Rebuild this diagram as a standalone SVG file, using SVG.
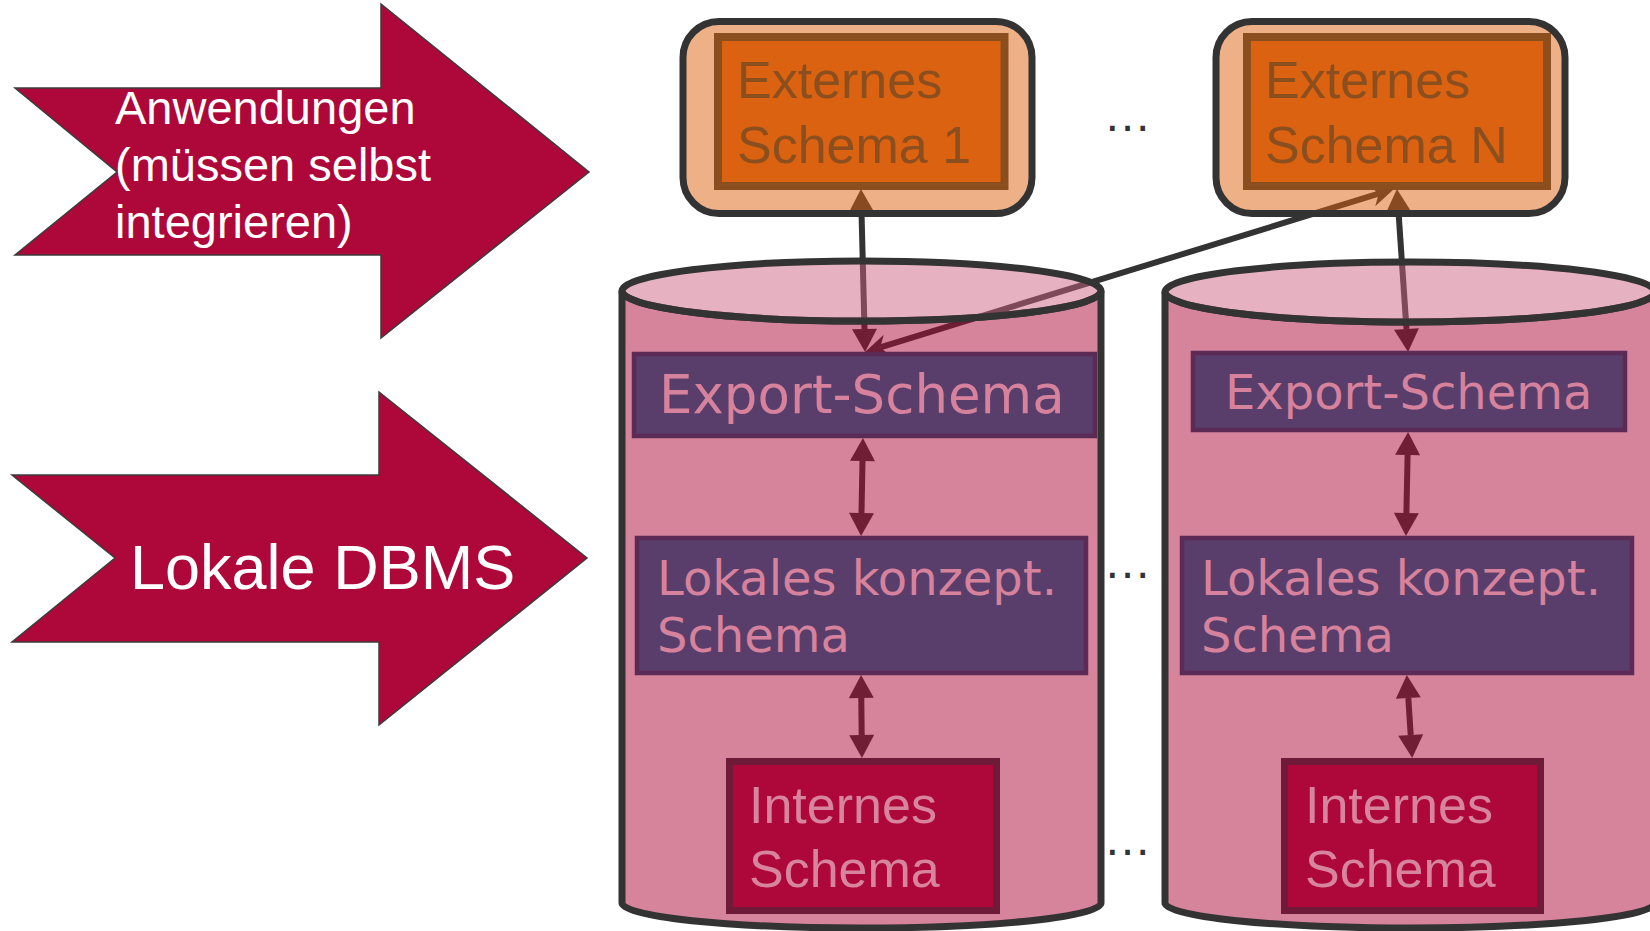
<svg xmlns="http://www.w3.org/2000/svg" width="1650" height="931" viewBox="0 0 1650 931">
<style>
.conn{stroke:#333;stroke-width:6;fill:none}
.bigarrow{fill:#AE0739;stroke:#3c3c3c;stroke-width:1.5}
.wtext{fill:#fff;font-family:"Liberation Sans",Arial,sans-serif}
.cylbody{fill:#AE0739;fill-opacity:0.5;stroke:#333;stroke-width:7}
.cyltop{fill:#CC6080;fill-opacity:0.49;stroke:#333;stroke-width:7}
.outer{fill:#DB6210;fill-opacity:0.5;stroke:#333;stroke-width:7}
.inner{fill:#DB6210;stroke:#8B4F1F;stroke-width:8}
.ext{fill:#8B4F1F;font-family:"Liberation Sans",Arial,sans-serif;font-size:52px}
.purple{fill:#593E6B;stroke:#5B2B55;stroke-width:4.5}
.ptext{fill:#D6829C;font-family:"DejaVu Sans",Verdana,sans-serif}
.intern{fill:#AE0739;stroke:#6E1A38;stroke-width:7}
.itext{fill:#D7849E;font-family:"Liberation Sans",Arial,sans-serif;font-size:52px}
.dots{fill:#333;font-family:"Liberation Sans",Arial,sans-serif;font-size:48px}
</style>
<defs>
<marker id="tri" markerUnits="userSpaceOnUse" markerWidth="26" markerHeight="28" viewBox="0 -14 25 28" refX="0" refY="0" orient="auto-start-reverse">
<path d="M0,-12.5 L23,0 L0,12.5 Z" fill="#333"/>
</marker>
<marker id="stealth" markerUnits="userSpaceOnUse" markerWidth="26" markerHeight="26" viewBox="0 -13 26 26" refX="7" refY="0" orient="auto-start-reverse">
<path d="M23,0 L0,-11 L7,0 L0,11 Z" fill="#333"/>
</marker>
</defs>

<g id="connectors">
<line class="conn" x1="861.5" y1="212" x2="864.5" y2="329" marker-start="url(#tri)" marker-end="url(#tri)"/>
<line class="conn" x1="1398.5" y1="212" x2="1406.5" y2="329" marker-start="url(#tri)" marker-end="url(#tri)"/>
<line class="conn" x1="1378.7" y1="193.7" x2="880.3" y2="347.3" marker-start="url(#stealth)" marker-end="url(#stealth)"/>
<line class="conn" x1="862.5" y1="461" x2="861.5" y2="513" marker-start="url(#tri)" marker-end="url(#tri)"/>
<line class="conn" x1="1407.6" y1="455" x2="1406.4" y2="513" marker-start="url(#tri)" marker-end="url(#tri)"/>
<line class="conn" x1="861.3" y1="698" x2="861.7" y2="735" marker-start="url(#tri)" marker-end="url(#tri)"/>
<line class="conn" x1="1408.3" y1="698" x2="1410.7" y2="735" marker-start="url(#tri)" marker-end="url(#tri)"/>
</g>

<g id="anwendungen">
<path class="bigarrow" d="M15,88 L381,88 L381,4 L589,172 L381,338 L381,255 L15,255 L117,172 Z"/>
<text class="wtext" font-size="47" x="115" y="124">Anwendungen</text>
<text class="wtext" font-size="47" x="115" y="181">(müssen selbst</text>
<text class="wtext" font-size="47" x="115" y="238">integrieren)</text>
</g>

<g id="lokale-dbms">
<path class="bigarrow" d="M12,475 L379,475 L379,392 L587,558 L379,725 L379,642 L12,642 L115,558 Z"/>
<text class="wtext" font-size="63" x="130" y="589">Lokale DBMS</text>
</g>

<g id="cylinder1">
<path class="cylbody" d="M622,291 L622,903 A239.5,25 0 0 0 1101,903 L1101,291 A239.5,30 0 0 1 622,291 Z"/>
<ellipse class="cyltop" cx="861.5" cy="291" rx="239.5" ry="30"/>
</g>

<g id="cylinder2">
<path class="cylbody" d="M1165,292 L1165,903 A245,25 0 0 0 1655,903 L1655,292 A245,30 0 0 1 1165,292 Z"/>
<ellipse class="cyltop" cx="1410" cy="292" rx="245" ry="30"/>
</g>

<g id="externes1">
<rect class="outer" x="683" y="21.5" width="349" height="192" rx="36"/>
<rect class="inner" x="718" y="37" width="286.5" height="149"/>
<text class="ext" x="737" y="98">Externes</text>
<text class="ext" x="737" y="163">Schema 1</text>
</g>

<g id="externesN">
<rect class="outer" x="1216" y="21.5" width="349" height="192" rx="36"/>
<rect class="inner" x="1247" y="37" width="300" height="149"/>
<text class="ext" x="1265" y="98">Externes</text>
<text class="ext" x="1265" y="163">Schema N</text>
</g>

<g id="export1">
<rect class="purple" x="634" y="354" width="461" height="82"/>
<text class="ptext" font-size="53" x="659" y="413">Export-Schema</text>
</g>

<g id="export2">
<rect class="purple" x="1193" y="353" width="432" height="77"/>
<text class="ptext" font-size="48" x="1225" y="409">Export-Schema</text>
</g>

<g id="lokales1">
<rect class="purple" x="637" y="538" width="449" height="135"/>
<text class="ptext" font-size="48" x="657" y="595">Lokales konzept.</text>
<text class="ptext" font-size="48" x="657" y="652">Schema</text>
</g>

<g id="lokales2">
<rect class="purple" x="1182" y="538" width="450" height="135"/>
<text class="ptext" font-size="48" x="1201" y="595">Lokales konzept.</text>
<text class="ptext" font-size="48" x="1201" y="652">Schema</text>
</g>

<g id="internes1">
<rect class="intern" x="729.5" y="761.5" width="267" height="149"/>
<text class="itext" x="749" y="823">Internes</text>
<text class="itext" x="749" y="887">Schema</text>
</g>

<g id="internes2">
<rect class="intern" x="1284.5" y="761.5" width="256" height="149"/>
<text class="itext" x="1305" y="823">Internes</text>
<text class="itext" x="1305" y="887">Schema</text>
</g>

<g id="ellipses">
<text class="dots" x="1127.5" y="131" text-anchor="middle">…</text>
<text class="dots" x="1127.5" y="578" text-anchor="middle">…</text>
<text class="dots" x="1127.5" y="855" text-anchor="middle">…</text>
</g>
</svg>
